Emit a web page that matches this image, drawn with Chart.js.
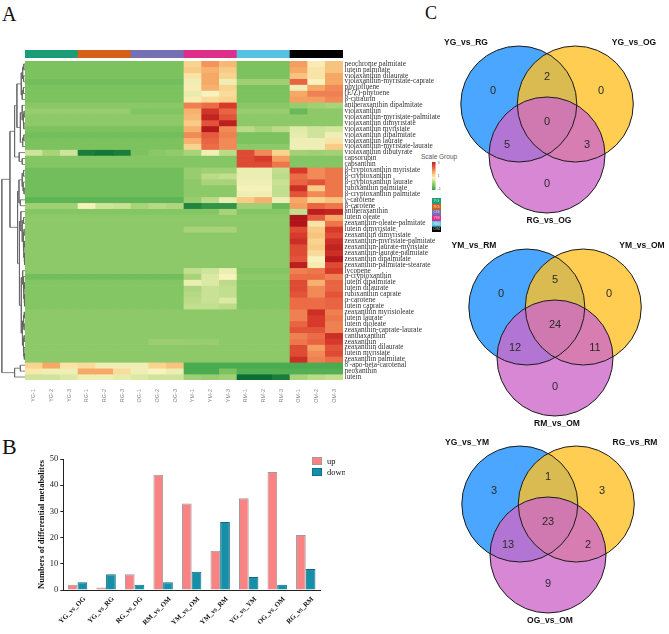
<!DOCTYPE html>
<html><head><meta charset="utf-8">
<script src="https://cdn.jsdelivr.net/npm/chart.js@4.4.1/dist/chart.umd.min.js"></script>
<style>
html,body{margin:0;padding:0;background:#fff;width:669px;height:634px;overflow:hidden;position:relative;}
canvas{position:absolute;}
.lt{position:absolute;font-family:"Liberation Serif","Times New Roman",serif;color:#111;line-height:1;white-space:nowrap;}
.sg{position:absolute;font-family:"Liberation Sans",Arial,sans-serif;color:#555;font-size:6.5px;line-height:1;white-space:nowrap;}
</style></head><body>
<div class="lt" style="left:2px;top:3.5px;font-size:20px">A</div>
<div class="lt" style="left:2px;top:436px;font-size:22px">B</div>
<div class="lt" style="left:425px;top:4px;font-size:18px">C</div>
<div class="sg" style="left:421px;top:154px">Scale Group</div>
<canvas id="dendro" width="25" height="319" style="left:0px;top:61px"></canvas>
<canvas id="grpbar" width="318" height="8" style="left:25px;top:50px"></canvas>
<canvas id="heat" width="423" height="355" style="left:20px;top:55px"></canvas>
<canvas id="cbar" width="16" height="36" style="left:428px;top:158px"></canvas>
<canvas id="gkey" width="14" height="38" style="left:430px;top:196px"></canvas>
<canvas id="bars" width="345" height="204" style="left:0px;top:430px"></canvas>
<canvas id="venn1" width="250" height="240" style="left:422px;top:2.5px"></canvas>
<canvas id="venn2" width="250" height="240" style="left:430px;top:206px"></canvas>
<canvas id="venn3" width="250" height="240" style="left:423px;top:403px"></canvas>
<script>
// ---------------- DATA ----------------
const samples = ['YG-1','YG-2','YG-3','RG-1','RG-2','RG-3','OG-1','OG-2','OG-3','YM-1','YM-2','YM-3','RM-1','RM-2','RM-3','OM-1','OM-2','OM-3'];
const groups = ['YG','RG','OG','YM','RM','OM'];
const groupColors = ['#1b9e77','#d5601a','#7570b3','#df2d8c','#56c1e0','#000000'];

const metabolites = [
 'neochrome palmitate','lutein palmitate','violaxanthin dilaurate','violaxanthin-myristate-caprate','phytofluene','(E/Z)-phytoene','β-citraurin',
 'antheraxanthin dipalmitate','violaxanthin','violaxanthin-myristate-palmitate','violaxanthin dimyristate','violaxanthin myristate','violaxanthin dipalmitate','violaxanthin laurate','violaxanthin-myristate-laurate','violaxanthin dibutyrate',
 'capsorubin','capsanthin',
 'β-cryptoxanthin myristate','β-cryptoxanthin','β-cryptoxanthin laurate','rubixanthin palmitate','β-cryptoxanthin palmitate','γ-carotene','β-carotene',
 'antheraxanthin','lutein oleate','zeaxanthin-oleate-palmitate','lutein dimyristate','zeaxanthin dimyristate','zeaxanthin-myristate-palmitate','zeaxanthin-laurate-myristate','zeaxanthin-laurate-palmitate','zeaxanthin dipalmitate','zeaxanthin-palmitate-stearate',
 'lycopene','α-cryptoxanthin','lutein dipalmitate','lutein dilaurate','rubixanthin caprate','α-carotene','lutein caprate','zeaxanthin myristoleate','lutein laurate','lutein dioleate','zeaxanthin-caprate-laurate','canthaxanthin','zeaxanthin','zeaxanthin dilaurate','lutein myristate','zeaxanthin palmitate',
 "8'-apo-beta-carotenal",'neoxanthin','lutein'
];

// z-scores, one row per metabolite, columns in the order of `samples`
const zscores = [
 [-0.5,-0.5,-0.5,-0.5,-0.5,-0.5,-0.5,-0.5,-0.5, 1.1,1.8,1.4, -0.5,-0.5,-0.5, 1.7,0.8,1.3],
 [-0.5,-0.5,-0.5,-0.5,-0.5,-0.5,-0.5,-0.5,-0.5, 1.2,1.5,1.2, -0.5,-0.5,-0.5, 1.6,0.9,1.3],
 [-0.5,-0.5,-0.5,-0.5,-0.5,-0.5,-0.5,-0.5,-0.5, 0.9,1.6,1.1, -0.5,-0.5,-0.5, 1.3,0.9,1.6],
 [-0.6,-0.6,-0.6,-0.6,-0.6,-0.6,-0.6,-0.6,-0.6, 0.6,1.6,0.6, -0.1,-0.1,-0.1, 2.3,0.7,1.6],
 [-0.5,-0.5,-0.5,-0.5,-0.5,-0.5,-0.5,-0.5,-0.5, 0.8,1.5,1.1, -0.5,-0.5,-0.5, 0.6,1.6,1.9],
 [-0.5,-0.5,-0.5,-0.5,-0.5,-0.5,-0.5,-0.5,-0.5, 0.5,0.7,1.0, -0.5,-0.5,-0.5, 1.6,2.0,2.0],
 [-0.5,-0.5,-0.5,-0.5,-0.5,-0.5,-0.5,-0.5,-0.5, 0.8,1.0,1.1, -0.5,-0.5,-0.5, 1.7,1.7,1.9],
 [-0.35,-0.35,-0.35,-0.35,-0.35,-0.35,-0.35,-0.35,-0.35, 2.0,2.2,2.8, -0.35,-0.35,-0.35, -0.2,-0.1,0.0],
 [-0.2,-0.2,-0.2,-0.2,-0.2,-0.2,-0.45,-0.45,-0.45, 1.5,2.9,2.3, -0.2,-0.2,-0.2, -0.7,-0.3,-0.3],
 [-0.3,-0.3,-0.3,-0.3,-0.3,-0.3,-0.3,-0.3,-0.3, 1.4,3.2,2.5, -0.3,-0.3,-0.3, -0.3,-0.3,-0.3],
 [-0.3,-0.3,-0.3,-0.3,-0.3,-0.3,-0.3,-0.3,-0.3, 1.2,2.5,3.3, -0.3,-0.3,-0.3, -0.3,-0.3,-0.3],
 [-0.5,-0.5,-0.5,-0.5,-0.5,-0.5,-0.5,-0.5,-0.5, 1.5,3.4,1.9, 0.15,0.0,0.15, 0.45,0.3,0.35],
 [-0.6,-0.6,-0.6,-0.6,-0.6,-0.6,-0.6,-0.6,-0.6, 1.9,2.4,2.0, -0.5,-0.5,-0.5, 0.5,0.3,0.6],
 [-0.5,-0.5,-0.5,-0.5,-0.5,-0.5,-0.5,-0.5,-0.5, 1.5,2.3,1.9, -0.5,-0.5,-0.5, 0.6,0.6,0.9],
 [-0.5,-0.5,-0.5,-0.5,-0.5,-0.5,-0.5,-0.5,-0.5, 1.1,2.2,1.9, -0.3,-0.3,-0.3, 0.6,0.6,1.2],
 [0.3,0.0,0.3, -1.6,-1.7,-1.6, -0.5,-0.35,-0.25, 0.0,0.6,0.15, 2.6,1.9,1.1, -0.05,-0.1,-0.05],
 [-0.4,-0.4,-0.4,-0.4,-0.4,-0.4,-0.4,-0.4,-0.4, -0.4,-0.4,-0.4, 2.6,2.8,1.7, -0.4,-0.4,-0.4],
 [-0.4,-0.4,-0.4,-0.4,-0.4,-0.4,-0.4,-0.4,-0.4, -0.4,-0.4,-0.4, 2.6,2.6,2.1, -0.4,-0.4,-0.4],
 [-0.6,-0.6,-0.6,-0.6,-0.6,-0.6,-0.6,-0.6,-0.6, -0.2,-0.1,-0.1, 0.55,0.55,0.2, 2.8,1.9,2.1],
 [-0.6,-0.6,-0.6,-0.6,-0.6,-0.6,-0.6,-0.6,-0.6, -0.2,0.15,0.2, 0.55,0.55,0.15, 2.2,1.9,2.1],
 [-0.6,-0.6,-0.6,-0.6,-0.6,-0.6,-0.6,-0.6,-0.6, -0.3,0.0,0.0, 0.6,0.6,0.25, 2.3,2.5,2.1],
 [-0.6,-0.6,-0.6,-0.6,-0.6,-0.6,-0.6,-0.6,-0.6, -0.3,-0.3,-0.3, 0.65,0.65,0.2, 3.0,1.2,2.1],
 [-0.6,-0.6,-0.6,-0.6,-0.6,-0.6,-0.6,-0.6,-0.6, -0.3,-0.3,-0.3, 0.6,0.6,0.2, 2.5,1.9,2.1],
 [-0.8,-0.8,-0.8,-0.8,-0.8,-0.8,-0.8,-0.8,-0.8, -0.2,0.15,0.55, 1.2,1.5,0.6, 1.6,1.1,1.3],
 [-0.1,-0.1,-0.1, 0.65,0.3,0.25, 0.0,0.1,0.05, -1.5,-1.3,-1.3, -0.1,-0.1,-0.7, 1.7,2.3,2.1],
 [-0.4,-0.4,-0.4,-0.4,-0.4,-0.4,-0.4,-0.4,-0.4, -0.4,-0.4,0.0, -0.4,-0.4,-0.4, 0.2,3.3,3.2],
 [-0.3,-0.3,-0.3,-0.3,-0.3,-0.3,-0.3,-0.3,-0.3, -0.3,-0.3,-0.3, -0.3,-0.3,-0.3, 3.5,2.4,1.6],
 [-0.3,-0.3,-0.3,-0.3,-0.3,-0.3,-0.3,-0.3,-0.3, -0.3,-0.3,-0.3, -0.3,-0.3,-0.3, 3.5,0.9,2.1],
 [-0.3,-0.3,-0.3,-0.3,-0.3,-0.3,-0.3,-0.3,-0.3, 0.0,0.0,0.0, -0.3,-0.3,-0.3, 2.6,1.2,2.8],
 [-0.3,-0.3,-0.3,-0.3,-0.3,-0.3,-0.3,-0.3,-0.3, -0.3,-0.3,-0.3, -0.3,-0.3,-0.3, 2.8,1.3,2.6],
 [-0.3,-0.3,-0.3,-0.3,-0.3,-0.3,-0.3,-0.3,-0.3, -0.3,-0.3,-0.3, -0.3,-0.3,-0.3, 3.0,1.1,3.0],
 [-0.3,-0.3,-0.3,-0.3,-0.3,-0.3,-0.3,-0.3,-0.3, -0.3,-0.3,-0.3, -0.3,-0.3,-0.3, 2.6,1.2,3.2],
 [-0.3,-0.3,-0.3,-0.3,-0.3,-0.3,-0.3,-0.3,-0.3, -0.3,-0.3,-0.3, -0.3,-0.3,-0.3, 2.6,1.0,3.0],
 [-0.3,-0.3,-0.3,-0.3,-0.3,-0.3,-0.3,-0.3,-0.3, -0.3,-0.3,-0.3, -0.3,-0.3,-0.3, 2.5,0.7,3.4],
 [-0.3,-0.3,-0.3,-0.3,-0.3,-0.3,-0.3,-0.3,-0.3, -0.3,-0.3,-0.3, -0.3,-0.3,-0.3, 3.3,0.8,2.6],
 [-0.3,-0.3,-0.3,-0.3,-0.3,-0.3,-0.3,-0.3,-0.3, 0.2,0.3,0.55, -0.4,-0.4,-0.4, 2.0,2.1,2.8],
 [-0.6,-0.6,-0.6,-0.6,-0.6,-0.6,-0.6,-0.6,-0.6, 0.0,0.4,0.7, -0.3,-0.3,-0.3, 2.2,2.2,2.0],
 [-0.4,-0.4,-0.4,-0.4,-0.4,-0.4,-0.4,-0.4,-0.4, 0.55,0.4,0.15, -0.4,-0.4,-0.4, 2.6,1.5,2.3],
 [-0.4,-0.4,-0.4,-0.4,-0.4,-0.4,-0.4,-0.4,-0.4, 0.05,0.25,0.2, -0.4,-0.4,-0.4, 2.6,1.9,2.3],
 [-0.4,-0.4,-0.4,-0.4,-0.4,-0.4,-0.4,-0.4,-0.4, 0.1,0.25,0.2, -0.4,-0.4,-0.4, 2.5,1.9,2.5],
 [-0.4,-0.4,-0.4,-0.4,-0.4,-0.4,-0.4,-0.4,-0.4, 0.15,0.25,0.4, -0.4,-0.4,-0.4, 2.2,2.2,2.3],
 [-0.4,-0.4,-0.4,-0.4,-0.4,-0.4,-0.4,-0.4,-0.4, 0.2,0.2,0.15, -0.4,-0.4,-0.4, 2.2,2.2,2.3],
 [-0.3,-0.3,-0.3,-0.3,-0.3,-0.3,-0.3,-0.3,-0.3, -0.3,-0.3,-0.3, -0.3,-0.3,-0.3, 2.0,3.0,2.0],
 [-0.3,-0.3,-0.3,-0.3,-0.3,-0.3,-0.3,-0.3,-0.3, -0.3,-0.3,-0.3, -0.3,-0.3,-0.3, 2.0,2.8,2.1],
 [-0.3,-0.3,-0.3,-0.3,-0.3,-0.3,-0.3,-0.3,-0.3, -0.3,-0.3,-0.3, -0.3,-0.3,-0.3, 2.3,2.8,2.0],
 [-0.3,-0.3,-0.3,-0.3,-0.3,-0.3,-0.3,-0.3,-0.3, -0.3,-0.3,-0.3, -0.3,-0.3,-0.3, 2.5,2.5,2.0],
 [-0.3,-0.3,-0.3,-0.3,-0.3,-0.3,-0.3,-0.3,-0.3, -0.3,-0.3,-0.3, -0.3,-0.3,-0.3, 2.0,2.2,3.0],
 [-0.3,-0.3,-0.3,-0.3,-0.3,-0.3,-0.3,-0.15,-0.15, -0.2,-0.2,-0.3, -0.3,-0.3,-0.3, 2.1,2.3,2.8],
 [-0.3,-0.3,-0.3,-0.3,-0.3,-0.3,-0.3,-0.3,-0.3, -0.3,-0.3,-0.3, -0.3,-0.3,-0.3, 2.6,1.7,2.5],
 [-0.3,-0.3,-0.3,-0.3,-0.3,-0.3,-0.3,-0.3,-0.3, -0.3,-0.3,-0.3, -0.3,-0.3,-0.3, 2.6,1.9,2.6],
 [-0.3,-0.3,-0.3,-0.3,-0.3,-0.3,-0.3,-0.3,-0.3, -0.3,-0.3,-0.3, -0.3,-0.3,-0.3, 3.0,2.0,2.2],
 [1.1,1.6,0.9, 1.0,0.6,0.6, 0.6,1.1,1.3, -1.0,-1.0,-1.0, -1.0,-1.0,-1.0, -1.0,-1.0,-1.0],
 [0.85,0.6,0.6, 1.6,1.6,1.0, 0.6,0.7,0.55, -1.0,-1.0,-0.5, -0.9,-0.9,-0.9, -0.9,-0.9,-0.9],
 [0.3,0.3,0.4, 0.6,0.6,0.5, 0.4,0.3,0.3, -0.1,-0.2,-0.1, -1.8,-1.8,-1.6, 0.0,0.15,0.2]
];

// row clustering: [mergeHeight, left, right]; leaves are row indices
const rowTree = [10,
  [6.5,
    [4.5,
      [3.5,
        [1.6, [1.0,[0.5,0,1],[0.6,2,3]], [1.2,[0.7,4,5],6]],
        [2.0, [1.2,7,[0.8,[0.4,8,9],[0.5,10,11]]], [1.0,[0.5,12,13],14]]
      ],
      [2.5, 15, [1.2,16,17]]
    ],
    [3.2,
      [2.6, [1.2,[0.6,18,19],[0.8,20,[0.4,21,22]]], [2.0,23,24]],
      [2.4,
        [1.8, 25, [1.2,[0.6,26,27],[0.8,[0.4,28,29],[0.5,[0.3,30,31],[0.3,32,[0.2,33,34]]]]]],
        [1.6, [1.0,35,[0.7,36,[0.5,[0.3,37,38],[0.3,39,[0.2,40,41]]]]],
              [1.1,[0.6,[0.3,42,43],[0.4,44,45]],[0.8,[0.4,46,47],[0.5,48,[0.3,49,50]]]]]
      ]
    ]
  ],
  [4.5, [2.0,51,52], 53]
];

const heatTicks = [-1,0,1,2,3];

const comparisons = ['YG_vs_OG','YG_vs_RG','RG_vs_OG','RM_vs_OM','YM_vs_OM','YM_vs_RM','YG_vs_YM','OG_vs_OM','RG_vs_RM'];
const upCounts   = [2,1,6,44,33,15,35,45,21];
const downCounts = [3,6,2,3,7,26,5,2,8];

// Venn counts: [A only, A∩B, B only, A∩B∩C, A∩C, B∩C, C only]
const venn1Sets = ['YG_vs_RG','YG_vs_OG','RG_vs_OG'];
const venn1Counts = [0,2,0,0,5,3,0];
const venn2Sets = ['YM_vs_RM','YM_vs_OM','RM_vs_OM'];
const venn2Counts = [0,5,0,24,12,11,0];
const venn3Sets = ['YG_vs_YM','RG_vs_RM','OG_vs_OM'];
const venn3Counts = [3,1,3,23,13,2,9];

// ---------------- STYLE / LAYOUT ----------------
Chart.defaults.animation = false;
Chart.defaults.events = [];
Chart.defaults.plugins.legend.display = false;
Chart.defaults.plugins.tooltip.enabled = false;
Chart.defaults.responsive = false;
Chart.defaults.maintainAspectRatio = false;
Chart.defaults.layout.autoPadding = false;

const heatStops = [[-1.8,'#0a6e35'],[-1.0,'#4aab50'],[-0.5,'#7cc35f'],[0,'#a9d378'],[0.4,'#dbe9a5'],[0.7,'#f9f2bd'],[1.1,'#f9d48f'],[1.6,'#f6a866'],[2.2,'#ec6c46'],[2.8,'#d73a2b'],[3.5,'#b0141a']];
function hex2rgb(h){return [parseInt(h.slice(1,3),16),parseInt(h.slice(3,5),16),parseInt(h.slice(5,7),16)];}
function zColor(z){
  if (z <= heatStops[0][0]) return heatStops[0][1];
  for (let i=1;i<heatStops.length;i++){
    if (z <= heatStops[i][0]){
      const a=hex2rgb(heatStops[i-1][1]), b=hex2rgb(heatStops[i][1]);
      const t=(z-heatStops[i-1][0])/(heatStops[i][0]-heatStops[i-1][0]);
      return 'rgb('+a.map((v,k)=>Math.round(v+(b[k]-v)*t)).join(',')+')';
    }
  }
  return heatStops[heatStops.length-1][1];
}
const sampleColor = s => groupColors[groups.indexOf(s.slice(0,2))];

// ---- dendrogram ----
const dendroSets = [];
function walk(node){
  if (typeof node === 'number') return {y: node + 0.5, h: 0};
  const [h, a, b] = node;
  const A = walk(a), B = walk(b);
  dendroSets.push({data:[{x:A.h,y:A.y},{x:h,y:A.y},{x:h,y:B.y},{x:B.h,y:B.y}], borderColor:'#666', borderWidth:0.8, pointRadius:0, pointBorderWidth:0, showLine:true, tension:0, fill:false});
  return {y:(A.y+B.y)/2, h};
}
walk(rowTree);
new Chart(document.getElementById('dendro'), {
  type:'scatter',
  data:{datasets:dendroSets},
  options:{layout:{padding:0},
    scales:{x:{type:'linear',display:false,min:0,max:10.8,reverse:true},
            y:{type:'linear',display:false,min:0,max:metabolites.length,reverse:true}}}
});

// ---- group colour bar ----
new Chart(document.getElementById('grpbar'), {
  type:'bar',
  data:{labels:samples, datasets:[{data:samples.map(()=>1), backgroundColor:samples.map(sampleColor), borderWidth:0, barPercentage:1, categoryPercentage:1}]},
  options:{layout:{padding:0}, scales:{x:{display:false}, y:{display:false,min:0,max:1}}}
});

// ---- heatmap ----
new Chart(document.getElementById('heat'), {
  type:'bar',
  data:{labels:samples,
    datasets: metabolites.map((m,r)=>({label:m, data:zscores[r].map(()=>1), backgroundColor:zscores[r].map(zColor), borderWidth:0, barPercentage:1, categoryPercentage:1, yAxisID:'y'}))},
  options:{
    layout:{padding:{left:5, top:5.7, right:0, bottom:0}},
    scales:{
      x:{stacked:true, grid:{display:false, drawTicks:false}, border:{display:false},
         ticks:{autoSkip:false, minRotation:90, maxRotation:90, padding:9, color:'#888', font:{family:'"Liberation Sans", Arial, sans-serif', size:5.5}},
         afterFit:s=>{s.height=30;}},
      y:{stacked:true, display:false, min:0, max:metabolites.length, reverse:true},
      rows:{type:'category', position:'right', labels:metabolites, offset:true,
         grid:{display:false, drawTicks:false}, border:{display:false},
         ticks:{autoSkip:false, padding:1.5, color:'#333', font:{family:'"Liberation Serif", "Times New Roman", serif', size:7.3}},
         afterFit:s=>{s.width=100;}}
    }
  }
});

// ---- colour scale ----
new Chart(document.getElementById('cbar'), {
  type:'bar',
  data:{labels:['z'], datasets:[{data:[[-1.2,3.2]], borderWidth:0, barPercentage:0.65, categoryPercentage:1,
    backgroundColor:(c)=>{const ch=c.chart, a=ch.chartArea; if(!a) return '#ccc';
      const g=ch.ctx.createLinearGradient(0,a.bottom,0,a.top);
      const lo=-1.2, hi=3.2;
      g.addColorStop(0,zColor(lo));
      heatStops.forEach(([z,c2])=>{ if(z>lo && z<hi) g.addColorStop((z-lo)/(hi-lo),c2); });
      g.addColorStop(1,zColor(hi)); return g;}}]},
  options:{layout:{padding:{left:3,top:4,bottom:4,right:0}},
    scales:{x:{display:false},
      y:{position:'right', min:-1.2, max:3.2, afterBuildTicks:s=>{s.ticks=heatTicks.map(v=>({value:v}));},
         grid:{display:false,drawTicks:false}, border:{display:false},
         ticks:{padding:1, color:'#777', font:{family:'"Liberation Sans", Arial', size:4}},
         afterFit:s=>{s.width=7.5;}}}}
});

// ---- group key ----
const keyText = {id:'keyText', afterDatasetsDraw(chart){
  const ctx=chart.ctx; ctx.save(); ctx.font='4px "Liberation Sans", Arial'; ctx.fillStyle='rgba(255,255,255,0.75)';
  ctx.textAlign='center'; ctx.textBaseline='middle';
  chart.data.datasets.forEach((ds,i)=>{const el=chart.getDatasetMeta(i).data[0]; ctx.fillText(ds.label, el.x, (el.y+el.base)/2);});
  ctx.restore();}};
new Chart(document.getElementById('gkey'), {
  type:'bar',
  data:{labels:['g'], datasets:groups.map((g,i)=>({label:g, data:[1], backgroundColor:groupColors[i], borderWidth:0, barPercentage:1, categoryPercentage:1}))},
  options:{layout:{padding:{left:2,right:3,top:2,bottom:2}},
    scales:{x:{stacked:true,display:false}, y:{stacked:true,display:false,min:0,max:groups.length,reverse:true}}},
  plugins:[keyText]
});

// ---- bar chart B ----
const barLegend = {id:'barLegend', afterDraw(chart){
  const ctx=chart.ctx, a=chart.chartArea; ctx.save();
  chart.data.datasets.forEach((ds,i)=>{
    const x=a.right-8, y=a.top-2+i*11;
    ctx.fillStyle=ds.backgroundColor; ctx.fillRect(x,y,10,8);
    ctx.strokeStyle=ds.borderColor; ctx.lineWidth=0.8; ctx.strokeRect(x+0.4,y+0.4,9.2,7.2);
    ctx.fillStyle='#111'; ctx.font='8.5px "Liberation Serif", "Times New Roman", serif'; ctx.textBaseline='middle'; ctx.textAlign='left';
    ctx.fillText(ds.label, x+15, y+4.5);
  });
  ctx.restore();}};
new Chart(document.getElementById('bars'), {
  type:'bar',
  data:{labels:comparisons, datasets:[
    {label:'up', data:upCounts, backgroundColor:'#f98383', borderColor:'#9c9c9c', borderWidth:1, barPercentage:1, categoryPercentage:0.68},
    {label:'down', data:downCounts, backgroundColor:'#168fa8', borderColor:'#0f6a80', borderWidth:1, barPercentage:1, categoryPercentage:0.68}
  ]},
  options:{
    layout:{padding:{left:37, top:29, right:25, bottom:0}},
    scales:{
      x:{grid:{display:false,drawTicks:false}, border:{display:true,color:'#222',width:1},
         ticks:{autoSkip:false, minRotation:45, maxRotation:45, padding:5, labelOffset:7, color:'#111', font:{family:'"Liberation Serif", "Times New Roman", serif', size:7, weight:'bold'}},
         afterFit:s=>{s.height=44;}},
      y:{min:0, max:50, ticks:{stepSize:10, padding:2, color:'#222', font:{family:'"Liberation Serif", "Times New Roman", serif', size:8.5}},
         grid:{drawOnChartArea:false, drawTicks:true, tickLength:3, color:'#222'}, border:{display:true,color:'#222',width:1},
         title:{display:true, text:'Numbers of differential metabolites', padding:0, color:'#111', font:{family:'"Liberation Serif", "Times New Roman", serif', size:8.5, weight:'bold'}},
         afterFit:s=>{s.width=26.3;}}
    }
  },
  plugins:[barLegend]
});

// ---- Venn diagrams ----
const vennCentres = [[-28.2,-17],[28.3,-17],[0,34]];
const vennR = 58;
const vennFill = ['rgba(30,144,255,0.8)','rgba(255,193,37,0.8)','rgba(205,105,201,0.8)'];
const vennRegionPos = [[-54,-30.5],[0,-44.5],[54,-30.5],[0,0.5],[-40,23.5],[40,23.5],[0,62.5]];
const vennSetPos = [[-81,-78.5],[87,-78.5],[2,100]];
const vennText = {id:'vennText', afterDatasetsDraw(chart, args, opts){
  const ctx=chart.ctx, sx=chart.scales.x, sy=chart.scales.y; ctx.save();
  ctx.textAlign='center'; ctx.textBaseline='middle';
  ctx.fillStyle='#2a2a2a'; ctx.font='11px "Liberation Sans", Arial, sans-serif';
  opts.counts.forEach((n,i)=>ctx.fillText(String(n), sx.getPixelForValue(vennRegionPos[i][0]), sy.getPixelForValue(vennRegionPos[i][1])));
  ctx.fillStyle='#111'; ctx.font='bold 8.5px "Liberation Sans", Arial, sans-serif';
  opts.sets.forEach((s,i)=>ctx.fillText(s, sx.getPixelForValue(vennSetPos[i][0]), sy.getPixelForValue(vennSetPos[i][1])));
  ctx.restore();}};
function makeVenn(id, sets, counts){
  const pts = vennCentres.map(([x,y])=>({x, y, r:vennR}));
  new Chart(document.getElementById(id), {
    type:'bubble',
    data:{datasets:[
      {data:pts, backgroundColor:'rgba(0,0,0,0)', borderColor:'#1a1a1a', borderWidth:1},
      {data:pts, backgroundColor:vennFill, borderWidth:0}
    ]},
    options:{layout:{padding:0, autoPadding:false}, clip:false,
      scales:{x:{display:false,min:-125,max:125}, y:{display:false,min:-118,max:122,reverse:true}},
      plugins:{vennText:{sets, counts}}},
    plugins:[vennText]
  });
}
makeVenn('venn1', venn1Sets, venn1Counts);
makeVenn('venn2', venn2Sets, venn2Counts);
makeVenn('venn3', venn3Sets, venn3Counts);
</script>
</body></html>
